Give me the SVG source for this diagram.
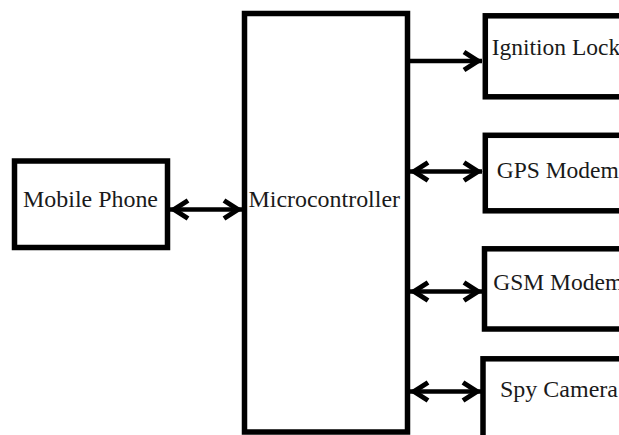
<svg xmlns="http://www.w3.org/2000/svg" width="619" height="435" viewBox="0 0 619 435">
<style>
.box{fill:#fff;stroke:#000;stroke-width:5.5}
.lbl{font-family:"Liberation Serif","Times New Roman",serif;font-size:23.5px;fill:#1a1a1a}
.con{stroke:#000;stroke-width:4.5;fill:none}
</style>
<defs>
<marker id="chev" markerUnits="userSpaceOnUse" viewBox="0 0 24 24" markerWidth="24" markerHeight="24" refX="21" refY="12" orient="auto-start-reverse" overflow="visible">
<path d="M3,3 L17,12 L3,21" fill="none" stroke="#000" stroke-width="5"/>
</marker>
</defs>
<rect width="619" height="435" fill="#fff"/>
<g id="connectors">
<line class="con" x1="170" y1="209.5" x2="242" y2="209.5" marker-start="url(#chev)" marker-end="url(#chev)"/>
<line class="con" x1="410" y1="61" x2="482" y2="61" marker-end="url(#chev)"/>
<line class="con" x1="410" y1="171.5" x2="482" y2="171.5" marker-start="url(#chev)" marker-end="url(#chev)"/>
<line class="con" x1="410" y1="291.5" x2="482" y2="291.5" marker-start="url(#chev)" marker-end="url(#chev)"/>
<line class="con" x1="410" y1="391.5" x2="481" y2="391.5" marker-start="url(#chev)" marker-end="url(#chev)"/>
</g>
<g id="mobile-phone">
<rect class="box" x="14.5" y="161" width="153" height="86.5"/>
<text class="lbl" x="23" y="207" textLength="135" lengthAdjust="spacingAndGlyphs">Mobile Phone</text>
</g>
<g id="microcontroller">
<rect class="box" x="244.5" y="13.5" width="163" height="418.5"/>
<text class="lbl" x="248.5" y="206.7" textLength="151.5" lengthAdjust="spacingAndGlyphs">Microcontroller</text>
</g>
<g id="ignition-lock">
<rect class="box" x="485.3" y="15.8" width="160" height="81"/>
<text class="lbl" x="491.7" y="55">Ignition Lock</text>
</g>
<g id="gps-modem">
<rect class="box" x="485.3" y="135.3" width="160" height="75.5"/>
<text class="lbl" x="496.7" y="178.3">GPS Modem</text>
</g>
<g id="gsm-modem">
<rect class="box" x="484.5" y="248.8" width="160" height="80.2"/>
<text class="lbl" x="493.3" y="290">GSM Modem</text>
</g>
<g id="spy-camera">
<rect class="box" x="483" y="358.8" width="160" height="90"/>
<text class="lbl" x="500" y="397" textLength="118" lengthAdjust="spacingAndGlyphs">Spy Camera</text>
</g>
</svg>
